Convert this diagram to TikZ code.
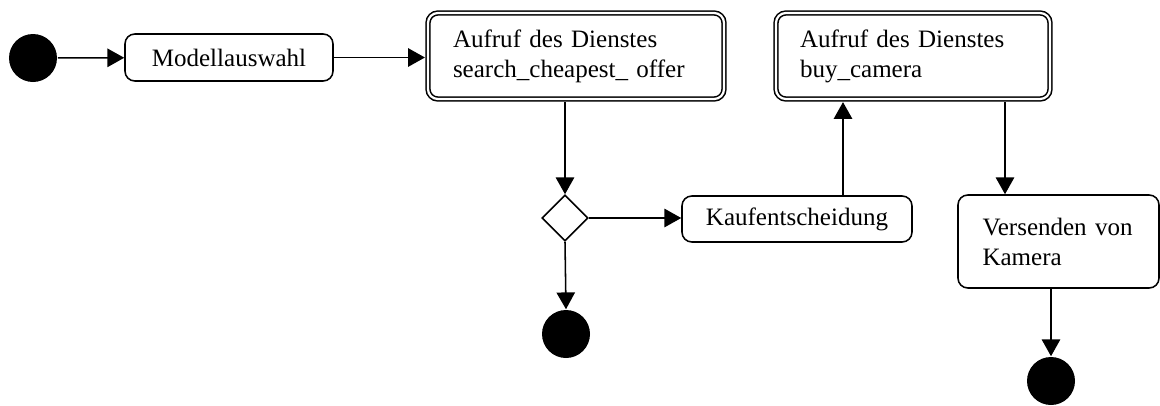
\documentclass[tikz,border=0pt]{standalone}
\usepackage{fontspec}
\setmainfont{Liberation Serif}
\usetikzlibrary{positioning,arrows.meta,shapes.geometric}

\begin{document}
\begin{tikzpicture}[font=\fontsize{17.8}{21.3}\selectfont, line width=1.1pt,
  act/.style={draw, rounded corners=7pt, align=left, inner sep=0pt},
  call/.style={act, double, double distance=1.6pt, outer sep=2.2pt},
  dot/.style={circle, fill=black, minimum size=1.2cm, inner sep=0pt},
  flow/.style={-{Triangle[length=0.42cm, width=0.46cm]}}]
  \useasboundingbox (0,0) rectangle (29,-10.125);

  % start and selection
  \node[dot] (start) at (0.825,-1.45) {};
  \node[act, minimum width=5.2cm, minimum height=1.175cm] (sel) at (5.725,-1.4375)
    {Modellauswahl};

  % service calls
  \node[call, minimum width=7.4cm, minimum height=2.15cm, text width=6.15cm]
    (cheap) at (14.4,-1.4)
    {Aufruf des Dienstes\\ search\_cheapest\_ offer};
  \node[call, minimum width=6.85cm, minimum height=2.15cm, text width=5.65cm]
    (buy) at (22.825,-1.4)
    {Aufruf des Dienstes\\ buy\_camera};

  % decision
  \node[diamond, draw, fill=white, minimum size=1.15cm, inner sep=0pt] (dec) at (14.125,-5.45) {};
  \node[act, minimum width=5.75cm, minimum height=1.15cm] (kauf) at (19.925,-5.475)
    {Kaufentscheidung};
  \node[act, minimum width=5.025cm, minimum height=2.325cm, text width=3.8cm]
    (ship) at (26.4625,-6.0375)
    {Versenden von\\ Kamera};

  % final states
  \node[dot] (end1) at (14.15,-8.35) {};
  \node[dot] (end2) at (26.275,-9.525) {};

  \draw[flow] (start) -- (sel);
  \draw[flow] (sel.east) -- (sel.east -| cheap.west);
  \draw[flow] (dec |- cheap.south) -- (dec.north);
  \draw[flow] (dec.east) -- (dec.east -| kauf.west);
  \draw[flow] (dec.south) -- (end1.north);
  \draw[flow] ([xshift=1.15cm]kauf.north) -- ([xshift=1.15cm]kauf.north |- buy.south);
  \draw[flow] ([xshift=-1.3375cm]ship.north |- buy.south) -- ([xshift=-1.3375cm]ship.north);
  \draw[flow] (end2 |- ship.south) -- (end2.north);
\end{tikzpicture}
\end{document}
